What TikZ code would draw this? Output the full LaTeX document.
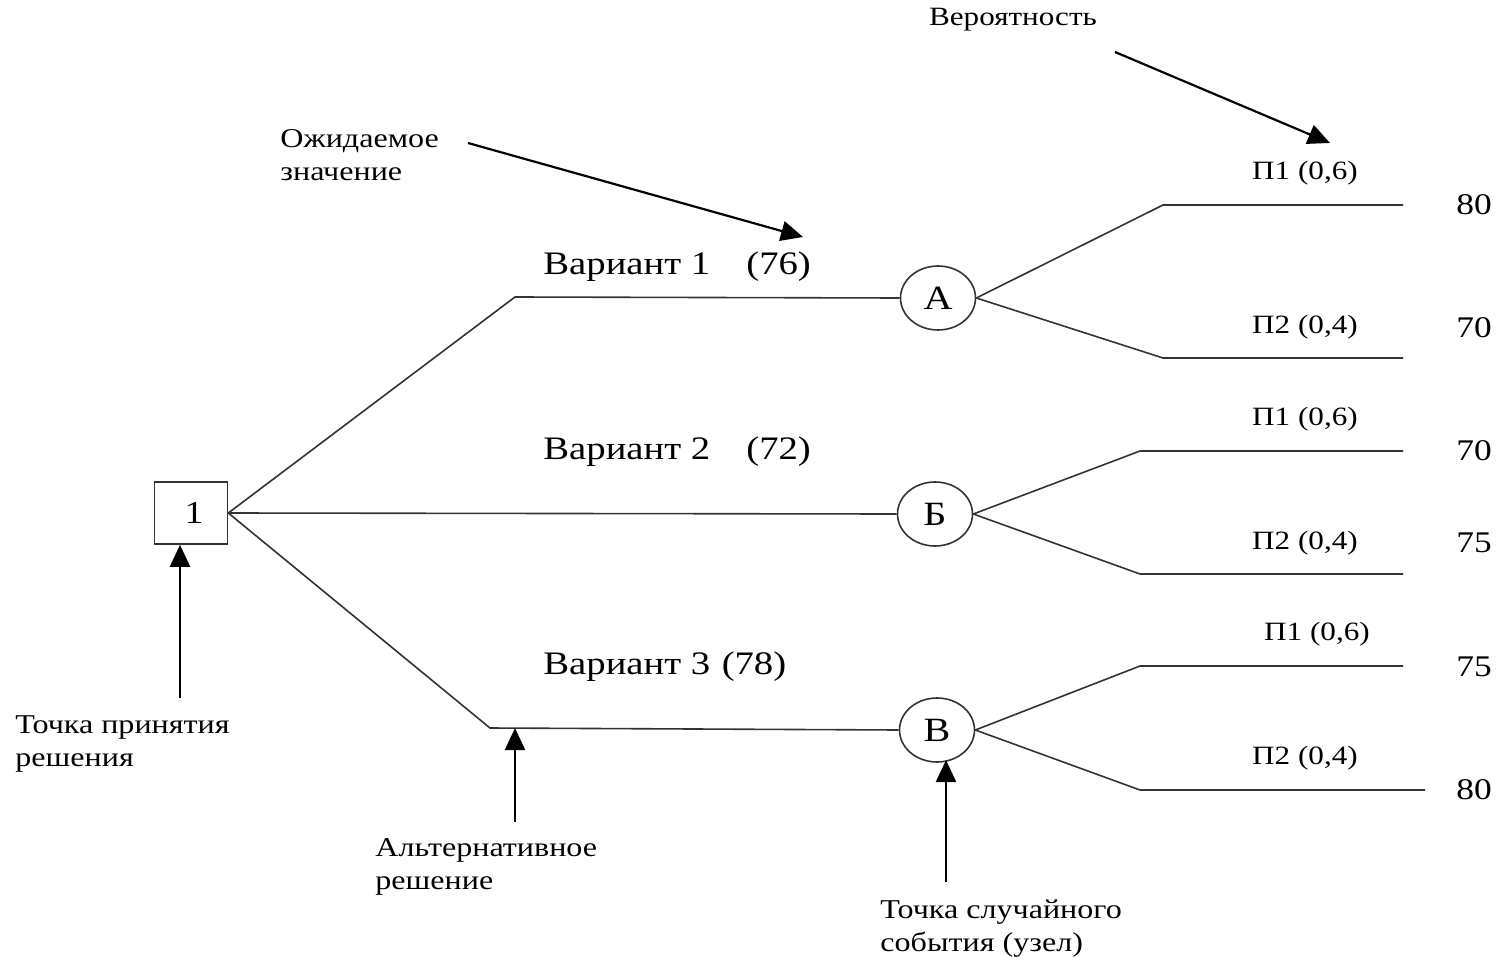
\documentclass[tikz,border=0pt]{standalone}
\usepackage{fontspec}
\setmainfont{Liberation Serif}[FakeStretch=1.18]
\usetikzlibrary{shapes.geometric,arrows.meta}
\begin{document}
\begin{tikzpicture}[x=0.5pt,y=-0.5pt,
  ln/.style={draw=black!80, line width=0.8pt},
  arr/.style={draw=black, line width=1.1pt, -{Triangle[length=11pt,width=10pt]}},
  big/.style={font=\fontsize{16.4}{19}\selectfont, inner sep=0pt},
  val/.style={font=\fontsize{15}{18}\selectfont, inner sep=0pt},
  sm/.style={font=\fontsize{13.6}{16.5}\selectfont, inner sep=0pt, align=left, anchor=north west},
  pr/.style={font=\fontsize{13.2}{16}\selectfont, inner sep=0pt},
  chance/.style={ellipse, draw=black!80, line width=0.8pt, minimum width=37.5pt, minimum height=32pt, inner sep=0pt, font=\fontsize{17}{20}\selectfont},
  decision/.style={rectangle, draw=black!80, line width=0.8pt, minimum width=36.5pt, minimum height=31pt, inner sep=0pt, font=\fontsize{16}{19}\selectfont},
]
\useasboundingbox (0,0) rectangle (1503,957);

% nodes
\node[decision] (d1) at (191,513) {\hspace{3pt}1};
\node[chance] (A) at (938,298) {А};
\node[chance] (B) at (935,514) {Б};
\node[chance] (V) at (937,730) {В};

% bend points
\coordinate (k1) at (515,297);
\coordinate (k3) at (490,728);
\coordinate (a1) at (1163,205); \coordinate (a1e) at (1403,205);
\coordinate (a2) at (1163,358); \coordinate (a2e) at (1403,358);
\coordinate (b1) at (1140,451); \coordinate (b1e) at (1403,451);
\coordinate (b2) at (1140,574); \coordinate (b2e) at (1403,574);
\coordinate (v1) at (1140,666); \coordinate (v1e) at (1403,666);
\coordinate (v2) at (1140,790); \coordinate (v2e) at (1425,790);

% branches
\draw[ln] (d1.east) -- (k1) -- (A.west);
\draw[ln] (d1.east) -- (B.west);
\draw[ln] (d1.east) -- (k3) -- (V.west);
\draw[ln] (A.east) -- (a1) -- (a1e);
\draw[ln] (A.east) -- (a2) -- (a2e);
\draw[ln] (B.east) -- (b1) -- (b1e);
\draw[ln] (B.east) -- (b2) -- (b2e);
\draw[ln] (V.east) -- (v1) -- (v1e);
\draw[ln] (V.east) -- (v2) -- (v2e);

% variant labels
\node[big, anchor=west] (t1) at (543,267) {Вариант 1\hspace{1.1em}(76)};
\node[big, anchor=west] (t2) at (543,452) {Вариант 2\hspace{1.1em}(72)};
\node[big, anchor=west] (t3) at (543,667) {Вариант 3\hspace{0.35em}(78)};

% probabilities
\node[pr] (pa1) at (1305,173) {П1 (0,6)};
\node[pr] (pa2) at (1305,327) {П2 (0,4)};
\node[pr] (pb1) at (1305,419) {П1 (0,6)};
\node[pr] (pb2) at (1305,543) {П2 (0,4)};
\node[pr] (pv1) at (1317,634) {П1 (0,6)};
\node[pr] (pv2) at (1305,758) {П2 (0,4)};

% values
\node[val] (va1) at (1474,205) {80};
\node[val] (va2) at (1474,328) {70};
\node[val] (vb1) at (1474,451) {70};
\node[val] (vb2) at (1474,543) {75};
\node[val] (vv1) at (1474,667) {75};
\node[val] (vv2) at (1474,790) {80};

% annotation labels
\node[pr] (lp) at (1013,20) {Вероятность};
\node[sm] (le) at (280,129) {Ожидаемое\\значение};
\node[sm] (ld) at (15,715) {Точка принятия\\решения};
\node[sm] (la) at (375,838) {Альтернативное\\решение};
\node[sm] (lc) at (880,899) {Точка случайного\\события (узел)};

% annotation arrows
\coordinate (sp) at (1115,52);   \coordinate (ep) at (1330,143);
\coordinate (se) at (468,143);   \coordinate (ee) at (803,237);
\coordinate (sd) at (180,698);
\coordinate (sa) at (515,822);   \coordinate (ea) at (515,728);
\coordinate (sc) at (946,882);   \coordinate (ec) at (946,760);
\draw[arr] (sp) -- (ep);
\draw[arr] (se) -- (ee);
\draw[arr] (sd) -- (sd |- d1.south);
\draw[arr] (sa) -- (ea);
\draw[arr] (sc) -- (ec);
\end{tikzpicture}
\end{document}
